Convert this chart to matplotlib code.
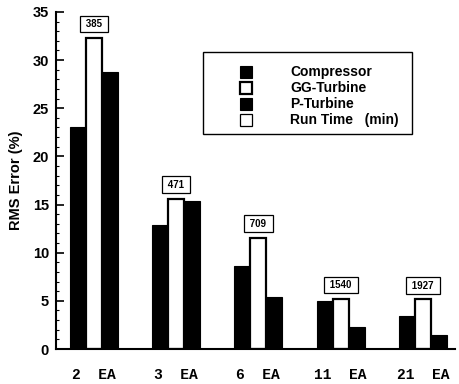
import matplotlib
matplotlib.use("Agg")
import matplotlib.pyplot as plt
from matplotlib.patches import Rectangle
import numpy as np

categories = ["2  EA", "3  EA", "6  EA", "11  EA", "21  EA"]
compressor = [23.0, 12.9, 8.6, 5.0, 3.4]
gg_turbine = [32.3, 15.6, 11.55, 5.2, 5.15]
p_turbine = [28.8, 15.35, 5.4, 2.3, 1.5]
run_time = [385, 471, 709, 1540, 1927]
yticks = [0, 5, 10, 15, 20, 25, 30, 35]

plt.rcParams['font.family'] = ['Liberation Sans', 'DejaVu Sans']

fig = plt.figure(figsize=(4.6, 3.84), dpi=100)
ax = fig.add_axes([0.1217, 0.0911, 0.8673, 0.8779])

x = np.arange(len(categories))
w = 0.195
ax.bar(x - w, compressor, w, color='black', edgecolor='black', linewidth=0.8)
ax.bar(x, gg_turbine, w, color='white', edgecolor='black', linewidth=1.6)
ax.bar(x + w, p_turbine, w, color='black', edgecolor='black', linewidth=0.8)

for xi, g, r in zip(x, gg_turbine, run_time):
    ax.annotate(f" {r} ", xy=(xi, g), xytext=(0, 10), textcoords='offset points',
                ha='center', va='center', fontsize=7, fontweight='bold',
                bbox=dict(boxstyle='square,pad=0.35', fc='white', ec='black', lw=0.9))

ax.set_xlim(-0.46, 4.39)
ax.set_ylim(0, 35)
ax.set_yticks(yticks)
ax.set_yticks(np.arange(0, 35.01, 1), minor=True)
ax.tick_params(axis='y', which='major', direction='in', length=6, width=1.2,
               labelsize=10.5, pad=5)
ax.tick_params(axis='y', which='minor', direction='in', length=2.5, width=0.8)
for lab in ax.get_yticklabels():
    lab.set_fontweight('bold')
ax.set_xticks(x)
ax.set_xticklabels(categories, family=['Liberation Mono', 'DejaVu Sans Mono'],
                   fontweight='bold', fontsize=10.5)
ax.tick_params(axis='x', length=0, pad=14)
ax.spines['top'].set_visible(False)
ax.spines['right'].set_visible(False)
ax.spines['left'].set_linewidth(1.5)
ax.spines['bottom'].set_linewidth(1.5)
ax.set_ylabel("RMS Error (%)", fontsize=10.5, fontweight='bold', labelpad=7)

# manual legend (axes fraction)
def fx(px):
    return (px - 56) / (455 - 56)
def fy(py):
    return (349 - py) / (349 - 12)

ax.add_patch(Rectangle((fx(203), fy(134)), fx(412) - fx(203), fy(52) - fy(134),
                       transform=ax.transAxes, fc='white', ec='black', lw=1.0,
                       clip_on=False, zorder=5))
labels = ["Compressor", "GG-Turbine", "P-Turbine", "Run Time   (min)"]
faces = ['black', 'white', 'black', 'white']
lws = [0.8, 1.6, 0.8, 0.9]
rows = [72, 88, 104, 120]
for lab, fc, lw, ry in zip(labels, faces, lws, rows):
    ax.add_patch(Rectangle((fx(240), fy(ry + 6)), fx(252) - fx(240), fy(ry - 6) - fy(ry + 6),
                           transform=ax.transAxes, fc=fc, ec='black', lw=lw,
                           clip_on=False, zorder=6))
    ax.text(fx(290), fy(ry), lab, transform=ax.transAxes, ha='left', va='center',
            fontsize=10, fontweight='bold', zorder=7)

fig.savefig("out.png", dpi=100)
